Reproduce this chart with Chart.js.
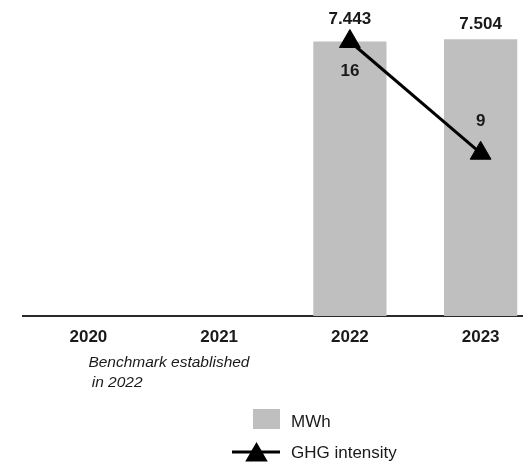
<!DOCTYPE html>
<html>
<head>
<meta charset="utf-8">
<script src="https://cdn.jsdelivr.net/npm/chart.js@4/dist/chart.umd.min.js"></script>
<style>
  html, body { margin: 0; padding: 0; background: #ffffff; overflow: hidden; }
  #wrap { position: relative; width: 546px; height: 464px; }
</style>
</head>
<body>
<div id="wrap"><canvas id="chart" width="546" height="464"></canvas></div>
<script>
// Energy use (MWh, bars) and GHG intensity (line) per year
const years = ['2020', '2021', '2022', '2023'];
const mwh = [null, null, 7443, 7504];
const ghgIntensity = [null, null, 16, 9];
const noteLines = ['Benchmark established', 'in 2022'];
const legendLabels = ['MWh', 'GHG intensity'];

const FONT = '"Liberation Sans", Arial, Helvetica, sans-serif';
const TEXT = '#1a1a1a';
const BAR = '#bfbfbf';
const LINE = '#000000';
const POINT_R = 12;

// 7443 -> "7.443"
function fmtThousands(v) {
  const s = String(Math.round(v));
  return s.replace(/\B(?=(\d{3})+(?!\d))/g, '.');
}

function triangle(ctx, x, y, r) {
  ctx.beginPath();
  for (let k = 0; k < 3; k++) {
    const a = k * 2 * Math.PI / 3;
    const px = x + Math.sin(a) * r, py = y - Math.cos(a) * r;
    if (k === 0) ctx.moveTo(px, py); else ctx.lineTo(px, py);
  }
  ctx.closePath();
  ctx.fill();
}

// value labels above the bars and beside the line points
const valueLabels = {
  id: 'valueLabels',
  afterDatasetsDraw(chart) {
    const ctx = chart.ctx;
    const barMeta = chart.getDatasetMeta(1);
    const lineMeta = chart.getDatasetMeta(0);
    ctx.save();
    ctx.font = 'bold 17px ' + FONT;
    ctx.fillStyle = TEXT;
    ctx.textAlign = 'center';
    ctx.textBaseline = 'middle';
    barMeta.data.forEach((el, i) => {
      const v = mwh[i];
      if (v == null) return;
      let y = el.y - 14.5;
      const pt = lineMeta.data[i];
      if (ghgIntensity[i] != null && pt) {
        y = Math.min(y, pt.y - POINT_R - 10);
      }
      ctx.fillText(fmtThousands(v), el.x, y);
    });
    const vals = ghgIntensity.filter(v => v != null);
    const mid = (Math.max(...vals) + Math.min(...vals)) / 2;
    lineMeta.data.forEach((pt, i) => {
      const v = ghgIntensity[i];
      if (v == null) return;
      const y = v > mid ? pt.y + 30 : pt.y - 32;
      ctx.fillText(String(v), pt.x, y);
    });
    ctx.restore();
  }
};

// footnote under the axis and the stacked legend
const footer = {
  id: 'footer',
  afterDraw(chart) {
    const ctx = chart.ctx;
    const x0 = chart.scales.x.getPixelForValue(0);
    ctx.save();
    ctx.fillStyle = TEXT;
    ctx.textBaseline = 'middle';
    ctx.textAlign = 'left';
    ctx.font = 'italic 15.5px ' + FONT;
    ctx.fillText(noteLines[0], x0, 362.5);
    ctx.fillText(' ' + noteLines[1], x0 - 1, 383);

    // legend: MWh swatch
    ctx.fillStyle = BAR;
    ctx.fillRect(253, 409, 27, 20);
    // legend: GHG intensity line + triangle
    ctx.strokeStyle = LINE;
    ctx.lineWidth = 3;
    ctx.beginPath();
    ctx.moveTo(232, 452);
    ctx.lineTo(280, 452);
    ctx.stroke();
    ctx.fillStyle = LINE;
    triangle(ctx, 256.5, 455, 13);

    ctx.fillStyle = TEXT;
    ctx.font = '17px ' + FONT;
    ctx.fillText(legendLabels[0], 291, 422);
    ctx.fillText(legendLabels[1], 291, 453);
    ctx.restore();
  }
};

new Chart(document.getElementById('chart'), {
  data: {
    labels: years,
    datasets: [
      {
        type: 'line',
        label: legendLabels[1],
        data: ghgIntensity,
        yAxisID: 'y2',
        order: 0,
        borderColor: LINE,
        backgroundColor: LINE,
        borderWidth: 3,
        pointStyle: 'triangle',
        pointRadius: POINT_R,
        pointHoverRadius: POINT_R,
        pointBorderWidth: 1,
        pointBackgroundColor: LINE,
        pointBorderColor: LINE,
        tension: 0,
        clip: false
      },
      {
        type: 'bar',
        label: legendLabels[0],
        data: mwh,
        yAxisID: 'y',
        order: 1,
        backgroundColor: BAR,
        borderWidth: 0,
        categoryPercentage: 1,
        barPercentage: 0.56
      }
    ]
  },
  options: {
    responsive: false,
    animation: false,
    devicePixelRatio: 1,
    layout: { autoPadding: false, padding: { top: 0, left: 23, right: 0, bottom: 105.6 } },
    plugins: {
      legend: { display: false },
      tooltip: { enabled: false }
    },
    scales: {
      x: {
        grid: { display: false, drawTicks: false },
        border: { display: true, color: '#2a2a2a', width: 2 },
        ticks: {
          color: TEXT,
          padding: 11,
          font: { family: FONT, size: 17, weight: 'bold' }
        }
      },
      y: {
        display: false,
        min: 0,
        max: 8570
      },
      y2: {
        display: false,
        position: 'right',
        min: -1.2,
        max: 18.6
      }
    }
  },
  plugins: [valueLabels, footer]
});
</script>
</body>
</html>
